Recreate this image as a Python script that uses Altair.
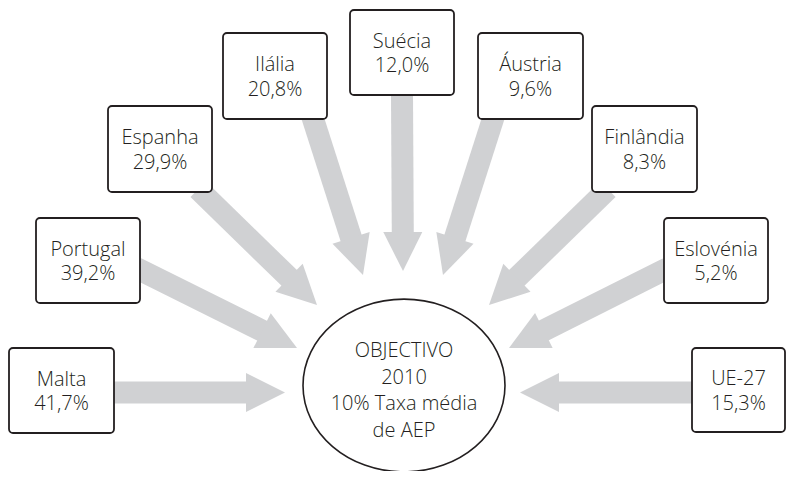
import math
import altair as alt
import pandas as pd

# ---- content ----
countries = ["Malta", "Portugal", "Espanha", "Ilália", "Suécia", "Áustria", "Finlândia", "Eslovénia", "UE-27"]
values = ["41,7%", "39,2%", "29,9%", "20,8%", "12,0%", "9,6%", "8,3%", "5,2%", "15,3%"]
center_lines = ["OBJECTIVO", "2010", "10% Taxa média", "de AEP"]

# ---- layout (page pixel coordinates) ----
box_x0 = [9, 36, 108, 223, 350, 478, 592, 664, 692]
box_x1 = [114, 140, 212, 327, 454, 583, 697, 768, 785]
box_y0 = [348, 218, 106, 33, 10, 33, 106, 218, 348]
box_y1 = [433, 303, 192, 119, 95, 119, 192, 303, 432]
arrow_start_x = [114, 140, 201, 313, 402, 493, 605, 664, 692]
arrow_start_y = [392.5, 270, 192, 119, 95, 119, 192, 270, 392.5]
arrow_tip_x = [285, 297, 317, 363, 403, 443, 489, 509, 520]
arrow_tip_y = [392.5, 348, 305, 275, 271, 275, 305, 348, 392.5]
center_x, center_y = 404, 385.5
center_line_y = [357, 383.5, 410, 436.5]

TEXT = "#231f20"
ARROW = "#d0d1d3"
FONT = "Open Sans"
FS = 20
FW = 300
HEAD_S = 19.5  # half size of arrow head symbol

# boxes
boxes = pd.DataFrame({"x0": box_x0, "x1": box_x1, "y0": box_y0, "y1": box_y1})

# labels inside boxes
lab_rows = []
for c, v, a, b, t, u in zip(countries, values, box_x0, box_x1, box_y0, box_y1):
    cx = (a + b) / 2
    cy = (t + u) / 2
    lab_rows.append({"x": cx, "y": cy - 5, "t": c})
    lab_rows.append({"x": cx, "y": cy + 19.5, "t": v})
labels = pd.DataFrame(lab_rows)

# arrows
shaft_rows, head_rows = [], []
for sx, sy, tx, ty in zip(arrow_start_x, arrow_start_y, arrow_tip_x, arrow_tip_y):
    dx, dy = tx - sx, ty - sy
    L = math.hypot(dx, dy)
    ux, uy = dx / L, dy / L
    shaft_rows.append({
        "x": sx - 4 * ux, "y": sy - 4 * uy,
        "x2": tx - (2 * HEAD_S - 1) * ux, "y2": ty - (2 * HEAD_S - 1) * uy,
    })
    ang = math.degrees(math.atan2(dy, dx)) % 360
    head_rows.append({"x": tx - HEAD_S * ux, "y": ty - HEAD_S * uy, "ang": ang})
shafts = pd.DataFrame(shaft_rows)
heads = pd.DataFrame(head_rows)

circle = pd.DataFrame({"x": [center_x], "y": [center_y]})
ctext = pd.DataFrame({"x": [center_x] * 4, "y": center_line_y, "t": center_lines})

xs = alt.Scale(domain=[8, 786], nice=False, zero=False)
ys = alt.Scale(domain=[8, 471], nice=False, zero=False, reverse=True)

def X(f="x"):
    return alt.X(f"{f}:Q", scale=xs, axis=None)

def Y(f="y"):
    return alt.Y(f"{f}:Q", scale=ys, axis=None)

shaft_layer = alt.Chart(shafts).mark_rule(color=ARROW, strokeWidth=22, strokeCap="butt").encode(
    x=X(), y=Y(), x2="x2:Q", y2="y2:Q"
)

head_layer = alt.Chart(heads).mark_point(
    shape="M1,0L-1,-1L-1,1Z", filled=True, color=ARROW, opacity=1,
    size=(2 * HEAD_S) ** 2, strokeWidth=0
).encode(x=X(), y=Y(), angle=alt.Angle("ang:Q", scale=None))

circle_layer = alt.Chart(circle).mark_point(
    shape="M-1,0A1,0.855,0,1,1,1,0A1,0.855,0,1,1,-1,0Z",
    size=202 ** 2, filled=False, fill="white", fillOpacity=1, opacity=1,
    stroke=TEXT, strokeWidth=1.6
).encode(x=X(), y=Y())

box_layer = alt.Chart(boxes).mark_rect(
    fill="white", stroke=TEXT, strokeWidth=1.8, cornerRadius=4
).encode(x=X("x0"), x2="x1:Q", y=Y("y0"), y2="y1:Q")

label_layer = alt.Chart(labels).mark_text(
    font=FONT, fontSize=FS, fontWeight=FW, color=TEXT, align="center", baseline="alphabetic"
).encode(x=X(), y=Y(), text="t:N")

ctext_layer = alt.Chart(ctext).mark_text(
    font=FONT, fontSize=FS, fontWeight=FW, color=TEXT, align="center", baseline="alphabetic"
).encode(x=X(), y=Y(), text="t:N")

chart = alt.layer(
    shaft_layer, head_layer, circle_layer, box_layer, label_layer, ctext_layer
).properties(
    width=778, height=463, autosize=alt.AutoSizeParams(type="none"), padding=0,
    background="white"
).configure_view(stroke=None)

chart.save("out.html", embed_options={"renderer": "svg", "actions": False})
